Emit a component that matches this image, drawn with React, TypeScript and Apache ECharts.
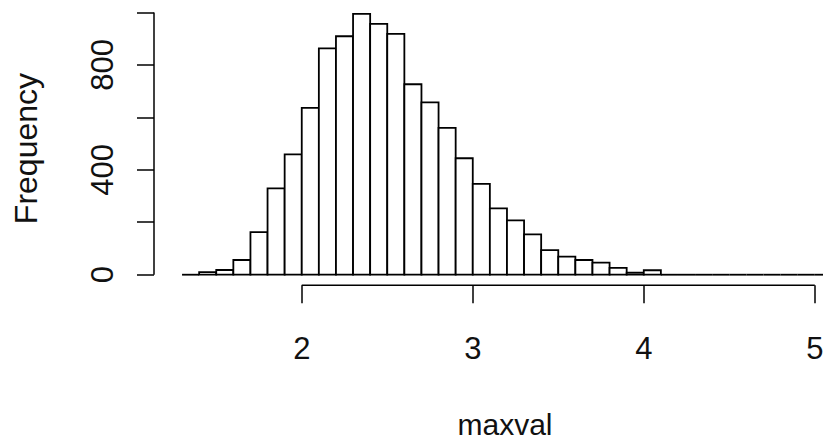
import React, { useEffect, useRef } from "react";
import * as echarts from "echarts";

// Histogram bins (left edges) and counts, width 0.1
const binStarts = [
  1.3, 1.4, 1.5, 1.6, 1.7, 1.8, 1.9, 2.0, 2.1, 2.2, 2.3, 2.4, 2.5, 2.6, 2.7, 2.8, 2.9,
  3.0, 3.1, 3.2, 3.3, 3.4, 3.5, 3.6, 3.7, 3.8, 3.9, 4.0, 4.1, 4.2, 4.3, 4.4, 4.5, 4.6,
  4.7, 4.8, 4.9, 5.0,
];
const binWidth = 0.1;
const counts = [
  0, 10, 18, 56, 162, 329, 459, 636, 863, 909, 994, 956, 918, 726, 657, 560, 444,
  346, 253, 207, 154, 94, 69, 56, 46, 26, 8, 17, 0, 0, 0, 0, 0, 0,
  0, 0, 0, 0,
];
const xTicks = [2, 3, 4, 5];
const yTicks = [0, 200, 400, 600, 800, 1000];
const yLabels = [0, 400, 800];
const xLabelName = "maxval";
const yLabelName = "Frequency";

const X_MIN = 1.136;
const X_MAX = 5.241;
const Y_MIN = -40;
const Y_MAX = 1040;

const FONT = "Liberation Sans, Arial, sans-serif";
const TEXT_COLOR = "#111";

export default function App() {
  const ref = useRef<HTMLDivElement>(null);

  useEffect(() => {
    document.body.style.margin = "0";
    if (!ref.current) return;
    const chart = echarts.init(ref.current, undefined, { renderer: "svg" });

    const binData = binStarts.map((s, i) => [s, +(s + binWidth).toFixed(2), counts[i]]);

    const axisLineStyle = { color: "#000", width: 1.5 };
    const barStroke = 1.8;

    const option: any = {
      animation: false,
      backgroundColor: "#fff",
      grid: {
        left: 154,
        top: 1.9,
        width: 702,
        height: 283.3,
        containLabel: false,
        outerBoundsMode: "none",
      },
      xAxis: {
        type: "value",
        min: X_MIN,
        max: X_MAX,
        axisLine: { show: false, onZero: false },
        splitLine: { show: false },
        axisTick: {
          show: true,
          customValues: xTicks,
          length: 18,
          lineStyle: axisLineStyle,
        },
        axisLabel: {
          show: true,
          customValues: xTicks,
          margin: 48,
          fontSize: 31,
          color: TEXT_COLOR,
          fontFamily: FONT,
        },
        name: xLabelName,
        nameLocation: "middle",
        nameGap: 124,
        nameTextStyle: { fontSize: 30, color: TEXT_COLOR, fontFamily: FONT },
      },
      yAxis: {
        type: "value",
        min: Y_MIN,
        max: Y_MAX,
        axisLine: { show: false, onZero: false },
        splitLine: { show: false },
        axisTick: {
          show: true,
          customValues: yTicks,
          length: 17,
          lineStyle: axisLineStyle,
        },
        axisLabel: {
          show: true,
          customValues: yLabels,
          rotate: 90,
          margin: 36,
          fontSize: 31,
          color: TEXT_COLOR,
          fontFamily: FONT,
        },
        name: yLabelName,
        nameLocation: "middle",
        nameGap: 112,
        nameRotate: 90,
        nameTextStyle: {
          fontSize: 32,
          color: TEXT_COLOR,
          fontFamily: FONT,
          padding: [0, 10, 0, 0],
        },
      },
      series: [
        {
          type: "custom",
          silent: true,
          clip: false,
          data: binData,
          encode: { x: [0, 1], y: 2 },
          renderItem: (params: any, api: any) => {
            const x0 = api.value(0);
            const x1 = api.value(1);
            const c = api.value(2);
            const p0 = api.coord([x0, 0]);
            const p1 = api.coord([x1, c]);
            if (c <= 0) {
              return {
                type: "line",
                shape: { x1: p0[0], y1: p0[1], x2: p1[0], y2: p0[1] },
                style: { stroke: "#000", lineWidth: barStroke },
              };
            }
            return {
              type: "rect",
              shape: {
                x: p0[0],
                y: p1[1],
                width: p1[0] - p0[0],
                height: p0[1] - p1[1],
              },
              style: { fill: "#fff", stroke: "#000", lineWidth: barStroke },
            };
          },
        },
        {
          type: "line",
          silent: true,
          clip: false,
          symbol: "none",
          data: [
            [xTicks[0], Y_MIN],
            [xTicks[xTicks.length - 1], Y_MIN],
          ],
          lineStyle: axisLineStyle,
        },
        {
          type: "line",
          silent: true,
          clip: false,
          symbol: "none",
          data: [
            [X_MIN, yTicks[0]],
            [X_MIN, yTicks[yTicks.length - 1]],
          ],
          lineStyle: axisLineStyle,
        },
      ],
    };

    chart.setOption(option);
    return () => {
      chart.dispose();
    };
  }, []);

  return <div ref={ref} style={{ width: 823, height: 443 }} />;
}
